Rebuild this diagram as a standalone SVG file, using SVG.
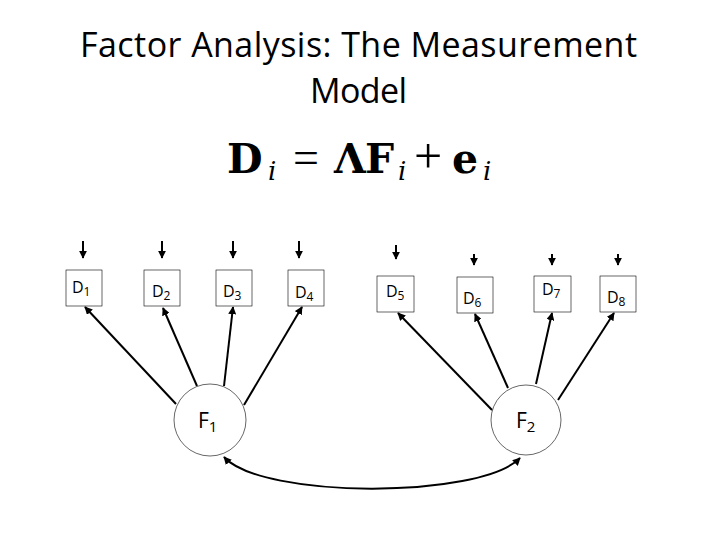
<svg xmlns="http://www.w3.org/2000/svg" width="720" height="540" viewBox="0 0 720 540">
<defs>
<marker id="ah" viewBox="0 0 10 10" refX="9" refY="5" markerWidth="4" markerHeight="4" orient="auto-start-reverse" markerUnits="strokeWidth">
<path d="M0,0 L10,5 L0,10 z" fill="#000"/>
</marker>
<style>
.box{fill:#fff;stroke:#000;stroke-width:0.6}
.circ{fill:#fff;stroke:#000;stroke-width:0.6}
.lbl{font-family:"Open Sans","Liberation Sans",sans-serif;font-size:16px;fill:#000}
.flbl{font-family:"Open Sans","Liberation Sans",sans-serif;font-size:21px;fill:#000}
.con{stroke:#000;stroke-width:2;fill:none;marker-end:url(#ah)}
.title{font-family:"Open Sans","Liberation Sans",sans-serif;font-size:34px;fill:#000}
.eq{font-family:"Liberation Serif","DejaVu Serif",serif;font-size:46px;fill:#000}
.eb{font-family:"DejaVu Serif",serif;font-weight:bold;font-size:41px}
.ei{font-family:"DejaVu Serif",serif;font-style:italic;font-size:26px}
</style>
</defs>
<rect width="720" height="540" fill="#fff"/>
<g id="title">
<text class="title" x="80" y="57" textLength="557" lengthAdjust="spacing">Factor Analysis: The Measurement</text>
<text class="title" x="310" y="103" textLength="97" lengthAdjust="spacing">Model</text>
</g>
<g id="equation">
<text class="eq" y="173"><tspan class="eb" x="227">D</tspan><tspan class="ei" x="268" y="180">i</tspan><tspan x="293" y="173">=</tspan><tspan class="eb" x="334">Λ</tspan><tspan class="eb" x="365">F</tspan><tspan class="ei" x="398" y="180">i</tspan><tspan x="414" y="173" font-size="50">+</tspan><tspan class="eb" x="452">e</tspan><tspan class="ei" x="483" y="180">i</tspan></text>
</g>
<g id="connectors">
<line class="con" x1="83" y1="241" x2="83" y2="258"/>
<line class="con" x1="162" y1="241" x2="162" y2="258"/>
<line class="con" x1="233" y1="241" x2="233" y2="258"/>
<line class="con" x1="299" y1="241" x2="299" y2="258"/>
<line class="con" x1="396" y1="245" x2="396" y2="259"/>
<line class="con" x1="474" y1="254" x2="474" y2="265"/>
<line class="con" x1="552" y1="254" x2="552" y2="265"/>
<line class="con" x1="618" y1="254" x2="618" y2="265"/>
<line class="con" x1="176" y1="404" x2="85" y2="307"/>
<line class="con" x1="197" y1="386" x2="163" y2="308"/>
<line class="con" x1="224" y1="386" x2="233" y2="307"/>
<line class="con" x1="244" y1="405" x2="302" y2="307"/>
<line class="con" x1="492" y1="410" x2="398" y2="313"/>
<line class="con" x1="508" y1="388" x2="475" y2="314"/>
<line class="con" x1="536" y1="384" x2="552" y2="313"/>
<line class="con" x1="558" y1="400" x2="614" y2="313"/>
<path class="con" d="M224,457 C262,499 480,499 520,458" style="marker-start:url(#ah)"/>
</g>
<g id="D1"><rect class="box" x="66" y="270" width="36" height="36"/><text class="lbl" x="72" y="293">D<tspan font-size="12" dy="3">1</tspan></text></g>
<g id="D2"><rect class="box" x="144" y="270" width="36" height="36"/><text class="lbl" x="152" y="297">D<tspan font-size="12" dy="3">2</tspan></text></g>
<g id="D3"><rect class="box" x="216" y="270" width="36" height="36"/><text class="lbl" x="223" y="297">D<tspan font-size="12" dy="3">3</tspan></text></g>
<g id="D4"><rect class="box" x="288" y="270" width="36" height="36"/><text class="lbl" x="295" y="298">D<tspan font-size="12" dy="3">4</tspan></text></g>
<g id="D5"><rect class="box" x="377" y="276" width="37" height="36"/><text class="lbl" x="386" y="297">D<tspan font-size="12" dy="3">5</tspan></text></g>
<g id="D6"><rect class="box" x="457" y="277" width="36" height="36"/><text class="lbl" x="463" y="304">D<tspan font-size="12" dy="3">6</tspan></text></g>
<g id="D7"><rect class="box" x="534" y="276" width="37" height="36"/><text class="lbl" x="542" y="295">D<tspan font-size="12" dy="3">7</tspan></text></g>
<g id="D8"><rect class="box" x="600" y="276" width="36" height="36"/><text class="lbl" x="607" y="303">D<tspan font-size="12" dy="3">8</tspan></text></g>
<g id="F1"><circle class="circ" cx="210" cy="420" r="36"/><text class="flbl" x="198" y="428">F<tspan font-size="15" dy="4">1</tspan></text></g>
<g id="F2"><circle class="circ" cx="526" cy="420" r="35"/><text class="flbl" x="516" y="428">F<tspan font-size="15" dy="4">2</tspan></text></g>
</svg>
